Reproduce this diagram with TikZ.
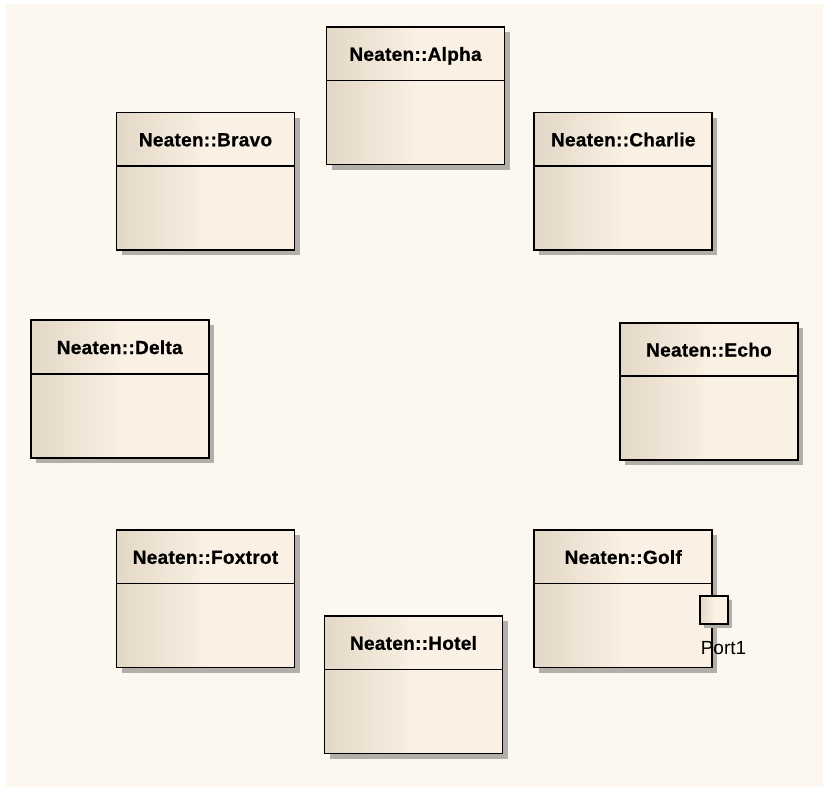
\documentclass[tikz,border=0pt]{standalone}
\usepackage{fontspec}
\setmainfont{Liberation Sans}
\newfontfamily\namefont{Liberation Sans Bold}[FakeBold=0.8, LetterSpace=1.5]
\usetikzlibrary{positioning}
\usetikzlibrary{shadows}

\definecolor{paper}{HTML}{FCF8EF}
\definecolor{clsleft}{HTML}{E3D8C6}
\definecolor{clsright}{HTML}{FAF0E3}
\definecolor{clsshadow}{HTML}{B2AEA8}

% dark on the left edge, light from about half of the width on
\pgfdeclarehorizontalshading{classshade}{100bp}{color(0bp)=(clsleft); color(25bp)=(clsleft);
    color(50bp)=(clsright); color(100bp)=(clsright)}

\tikzset{
    classbox/.style={draw=black, line width=1.8pt, rectangle,
        minimum width=178pt, minimum height=137.5pt, inner sep=0pt,
        shading=classshade,
        drop shadow={shadow xshift=5pt, shadow yshift=-5pt, fill=clsshadow, opacity=1}},
    classname/.style={rectangle, minimum width=178pt, minimum height=54pt, inner sep=0pt,
        text height=19pt, text depth=4pt,
        font=\fontsize{19}{22}\selectfont\namefont},
    divider/.style={line width=1.8pt},
    portbox/.style={draw=black, line width=1.8pt, rectangle,
        minimum size=28pt, inner sep=0pt,
        shading=classshade,
        drop shadow={shadow xshift=4pt, shadow yshift=-4pt, fill=clsshadow, opacity=1}},
    portname/.style={font=\fontsize{19}{22}\selectfont, inner sep=0pt}
}

\begin{document}
\begin{tikzpicture}[x=1pt, y=-1pt]
\useasboundingbox (0,0) rectangle (823,787);
\fill[white] (0,0) rectangle (823,787);
\fill[paper] (6,4) rectangle (823,787);

\node[classbox] (alpha) at (415.5, 95.75) {};
\node[classname, below=0pt of alpha.north] (alphaname) {Neaten::Alpha};
\draw[divider] (alphaname.south west) -- (alphaname.south east);

\node[classbox] (bravo) at (205.5, 181.25) {};
\node[classname, below=0pt of bravo.north] (bravoname) {Neaten::Bravo};
\draw[divider] (bravoname.south west) -- (bravoname.south east);

\node[classbox] (charlie) at (623.25, 181.25) {};
\node[classname, below=0pt of charlie.north] (charliename) {Neaten::Charlie};
\draw[divider] (charliename.south west) -- (charliename.south east);

\node[classbox] (delta) at (119.75, 389) {};
\node[classname, below=0pt of delta.north] (deltaname) {Neaten::Delta};
\draw[divider] (deltaname.south west) -- (deltaname.south east);

\node[classbox] (echo) at (709, 391.5) {};
\node[classname, below=0pt of echo.north] (echoname) {Neaten::Echo};
\draw[divider] (echoname.south west) -- (echoname.south east);

\node[classbox] (foxtrot) at (205.5, 598.8) {};
\node[classname, below=0pt of foxtrot.north] (foxtrotname) {Neaten::Foxtrot};
\draw[divider] (foxtrotname.south west) -- (foxtrotname.south east);

\node[classbox] (golf) at (623.25, 598.8) {};
\node[classname, below=0pt of golf.north] (golfname) {Neaten::Golf};
\draw[divider] (golfname.south west) -- (golfname.south east);

\node[classbox] (hotel) at (413.5, 684.75) {};
\node[classname, below=0pt of hotel.north] (hotelname) {Neaten::Hotel};
\draw[divider] (hotelname.south west) -- (hotelname.south east);

% port on the right side of golf
\node[portbox] (port1) at (714, 610) {};
\node[portname, below=16pt of port1.south, xshift=9.5pt] (port1name) {Port1};
\end{tikzpicture}
\end{document}
